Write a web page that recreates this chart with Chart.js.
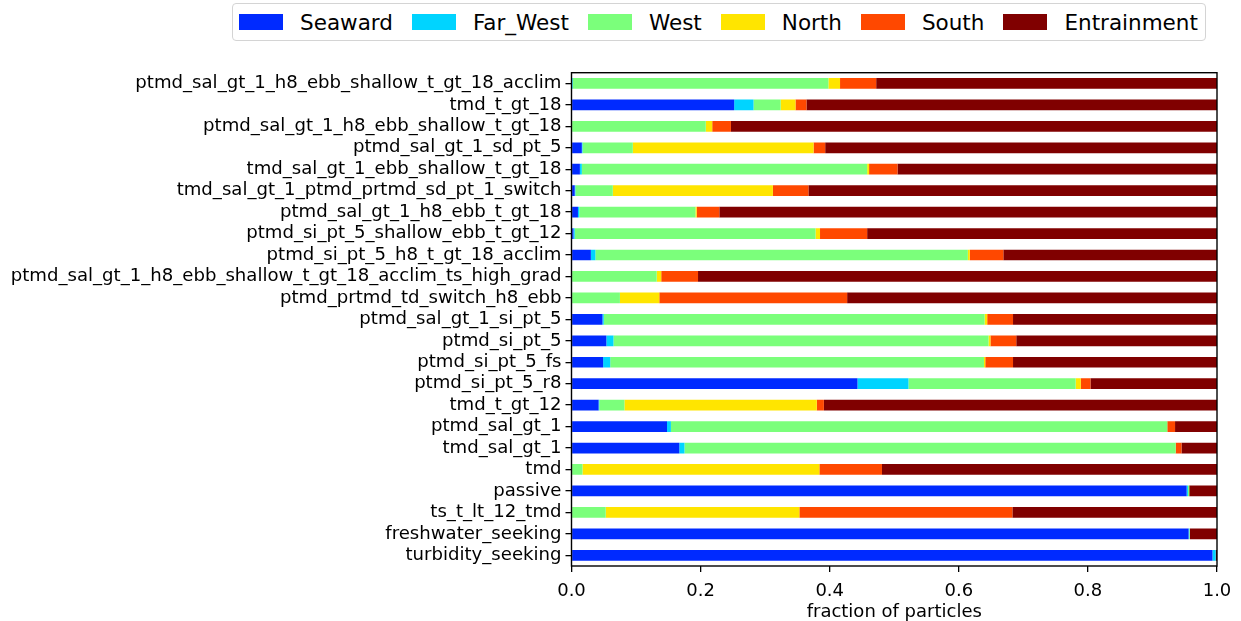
<!DOCTYPE html>
<html>
<head>
<meta charset="utf-8">
<script src="https://cdn.jsdelivr.net/npm/chart.js@4/dist/chart.umd.min.js"></script>
<style>
  html, body { margin: 0; padding: 0; background: #fff; }
  #wrap { position: relative; width: 1241px; height: 621px; }
  #chart { position: absolute; left: 0; top: 0; }
  #legend {
    position: absolute; left: 232px; top: 3px; width: 974px; height: 38px;
    border: 1px solid #d4d4d4; border-radius: 4px; background: #fff;
    display: flex; align-items: center; box-sizing: border-box;
    padding-left: 6px;
    font-family: "DejaVu Sans", sans-serif; font-size: 21.5px; color: #000;
  }
  .item { display: flex; align-items: center; margin-right: 19px; }
  .swatch { width: 44px; height: 16px; margin-right: 17px; }
</style>
</head>
<body>
<div id="wrap">
  <canvas id="chart" width="1241" height="621"></canvas>
  <div id="legend"></div>
</div>
<script>
// Destination categories, listed top to bottom
const categories = [
  "ptmd_sal_gt_1_h8_ebb_shallow_t_gt_18_acclim",
  "tmd_t_gt_18",
  "ptmd_sal_gt_1_h8_ebb_shallow_t_gt_18",
  "ptmd_sal_gt_1_sd_pt_5",
  "tmd_sal_gt_1_ebb_shallow_t_gt_18",
  "tmd_sal_gt_1_ptmd_prtmd_sd_pt_1_switch",
  "ptmd_sal_gt_1_h8_ebb_t_gt_18",
  "ptmd_si_pt_5_shallow_ebb_t_gt_12",
  "ptmd_si_pt_5_h8_t_gt_18_acclim",
  "ptmd_sal_gt_1_h8_ebb_shallow_t_gt_18_acclim_ts_high_grad",
  "ptmd_prtmd_td_switch_h8_ebb",
  "ptmd_sal_gt_1_si_pt_5",
  "ptmd_si_pt_5",
  "ptmd_si_pt_5_fs",
  "ptmd_si_pt_5_r8",
  "tmd_t_gt_12",
  "ptmd_sal_gt_1",
  "tmd_sal_gt_1",
  "tmd",
  "passive",
  "ts_t_lt_12_tmd",
  "freshwater_seeking",
  "turbidity_seeking"
];

// Fraction of particles reaching each destination, one value per behaviour
const seaward     = [0, 0.252, 0, 0.016, 0.013, 0.005, 0.010, 0.003, 0.030, 0, 0, 0.048, 0.054, 0.049, 0.443, 0.042, 0.148, 0.167, 0, 0.953, 0, 0.956, 0.993];
const farWest     = [0.002, 0.030, 0, 0.001, 0.003, 0.001, 0.002, 0.002, 0.007, 0, 0, 0.002, 0.011, 0.011, 0.079, 0.001, 0.006, 0.008, 0, 0.002, 0, 0.001, 0.005];
const west        = [0.396, 0.042, 0.208, 0.078, 0.442, 0.058, 0.180, 0.373, 0.577, 0.132, 0.075, 0.590, 0.581, 0.579, 0.259, 0.039, 0.769, 0.761, 0.017, 0.002, 0.053, 0.001, 0];
const north       = [0.018, 0.023, 0.010, 0.280, 0.003, 0.248, 0.002, 0.007, 0.003, 0.007, 0.061, 0.004, 0.003, 0.002, 0.008, 0.298, 0, 0, 0.367, 0, 0.300, 0, 0];
const south       = [0.056, 0.017, 0.029, 0.018, 0.044, 0.055, 0.035, 0.073, 0.052, 0.057, 0.291, 0.040, 0.040, 0.043, 0.015, 0.011, 0.012, 0.009, 0.097, 0, 0.330, 0, 0];
const entrainment = [0.528, 0.636, 0.753, 0.607, 0.495, 0.633, 0.771, 0.542, 0.331, 0.804, 0.573, 0.316, 0.311, 0.316, 0.196, 0.609, 0.065, 0.055, 0.519, 0.043, 0.317, 0.042, 0.002];

const seriesNames  = ["Seaward", "Far_West", "West", "North", "South", "Entrainment"];
const seriesValues = [seaward, farWest, west, north, south, entrainment];
const seriesColors = ["#002aff", "#00d4ff", "#7bff7b", "#ffe500", "#ff4800", "#800000"];

// x-axis tick values
const xTicks = [0.0, 0.2, 0.4, 0.6, 0.8, 1.0];

const FONT = "DejaVu Sans";

// Full black frame around the plotting area
const framePlugin = {
  id: "frame",
  afterDatasetsDraw(chart) {
    const { ctx, chartArea: a } = chart;
    ctx.save();
    ctx.strokeStyle = "#000";
    ctx.lineWidth = 1.4;
    ctx.strokeRect(a.left, a.top, a.right - a.left, a.bottom - a.top);
    ctx.restore();
  }
};

const datasets = seriesNames.map((name, i) => ({
  label: name,
  data: seriesValues[i],
  backgroundColor: seriesColors[i],
  borderWidth: 0,
  barPercentage: 0.5,
  categoryPercentage: 1.0
}));

new Chart(document.getElementById("chart"), {
  type: "bar",
  data: { labels: categories, datasets },
  plugins: [framePlugin],
  options: {
    indexAxis: "y",
    responsive: false,
    animation: false,
    devicePixelRatio: 1,
    layout: { padding: { left: 0, right: 24, top: 72.7, bottom: 0 } },
    plugins: { legend: { display: false }, tooltip: { enabled: false } },
    scales: {
      x: {
        stacked: true,
        min: 0,
        max: 1,
        afterBuildTicks(scale) { scale.ticks = xTicks.map(v => ({ value: v })); },
        afterFit(scale) { scale.height = 55; },
        border: { display: false },
        grid: { drawOnChartArea: false, drawTicks: true, tickLength: 6, color: "#000", lineWidth: 1.3 },
        ticks: {
          color: "#000",
          padding: 9,
          font: { family: FONT, size: 18 },
          callback: (v) => Number(v).toFixed(1)
        },
        title: {
          display: true,
          text: "fraction of particles",
          color: "#000",
          font: { family: FONT, size: 18 },
          padding: { top: 0, bottom: -2 }
        }
      },
      y: {
        stacked: true,
        afterFit(scale) { scale.width = 571.5; },
        border: { display: false },
        grid: { offset: false, drawOnChartArea: false, drawTicks: true, tickLength: 6, color: "#000", lineWidth: 1.3 },
        ticks: {
          color: "#000",
          padding: 4,
          autoSkip: false,
          font: { family: FONT, size: 18.1 }
        }
      }
    }
  }
});

// Legend built from the same series names and colours
const legend = document.getElementById("legend");
seriesNames.forEach((name, i) => {
  const item = document.createElement("div");
  item.className = "item";
  const sw = document.createElement("div");
  sw.className = "swatch";
  sw.style.background = seriesColors[i];
  const label = document.createElement("span");
  label.textContent = name;
  item.appendChild(sw);
  item.appendChild(label);
  legend.appendChild(item);
});
</script>
</body>
</html>
